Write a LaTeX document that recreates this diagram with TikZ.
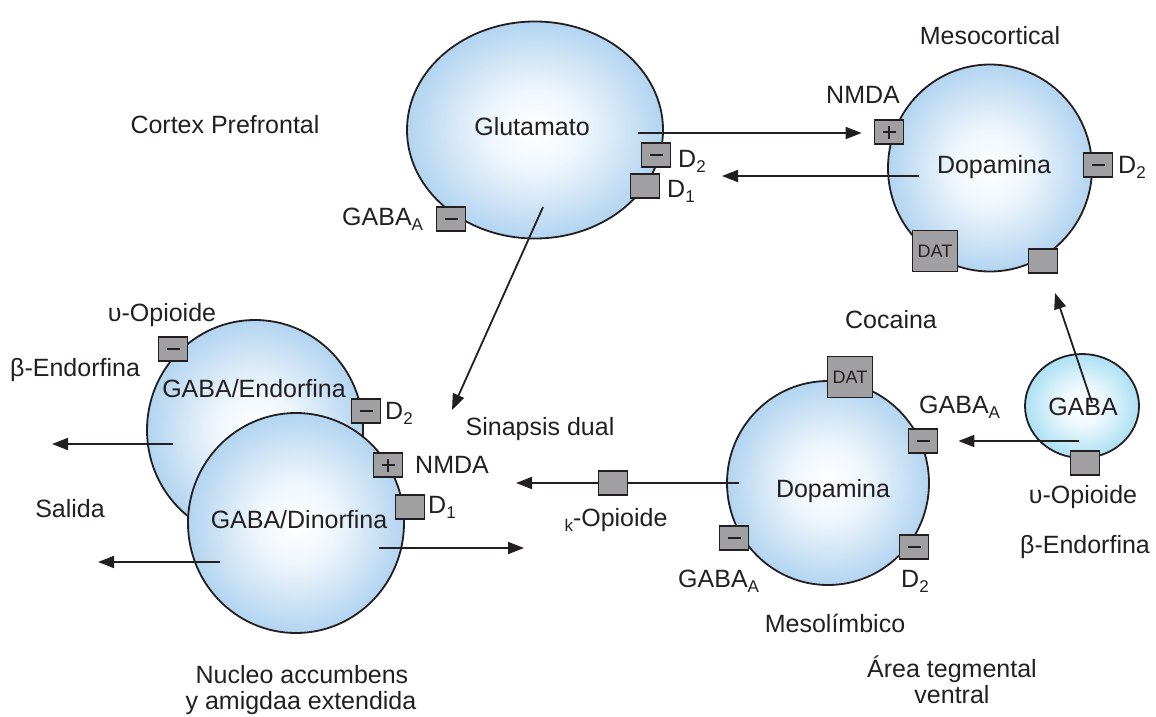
\documentclass[tikz,border=0pt]{standalone}
\usepackage{fontspec}
\setmainfont{Liberation Sans}
\usetikzlibrary{arrows.meta,shapes.geometric}
\definecolor{cellblue}{RGB}{178,212,240}
\definecolor{gababl}{RGB}{172,224,244}
\definecolor{boxgray}{RGB}{160,160,163}
\definecolor{ink}{RGB}{35,31,32}
% soft radial fill: white core, blue rim
\pgfdeclareradialshading{cellfill}{\pgfpoint{0bp}{0bp}}{%
  color(0bp)=(white); color(9bp)=(white!80!cellblue);
  color(25bp)=(cellblue); color(50bp)=(cellblue)}
\pgfdeclareradialshading{gabafill}{\pgfpoint{0bp}{0bp}}{%
  color(0bp)=(white); color(9bp)=(white!80!gababl);
  color(25bp)=(gababl); color(50bp)=(gababl)}
% lowered index as set in the labels
\newcommand{\idx}[1]{\raisebox{-5pt}{\fontsize{17}{20}\selectfont #1}}
\begin{document}
\begin{tikzpicture}[x=1pt,y=-1pt,
  cell/.style={ellipse, draw=ink, line width=1.8pt, inner sep=0pt, shading=cellfill},
  lab/.style={anchor=base, inner sep=0pt, text=ink, font=\fontsize{25}{30}\selectfont},
  labw/.style={lab, anchor=base west},
  rplain/.style={draw=ink, line width=1.8pt, fill=boxgray,
    minimum width=29pt, minimum height=24pt, inner sep=0pt},
  rdat/.style={rplain, minimum width=45pt, minimum height=41pt,
    font=\fontsize{18}{20}\selectfont, text=ink},
  rminus/.style={rplain, path picture={
    \draw[ink, line width=2.8pt]
      ([xshift=-6.5pt]path picture bounding box.center) --
      ([xshift=6.5pt]path picture bounding box.center);}},
  rplus/.style={rplain, path picture={
    \draw[ink, line width=2.6pt]
      ([xshift=-6.5pt]path picture bounding box.center) --
      ([xshift=6.5pt]path picture bounding box.center)
      ([yshift=-6.5pt]path picture bounding box.center) --
      ([yshift=6.5pt]path picture bounding box.center);}},
  arr/.style={draw=ink, line width=1.8pt, -{Triangle[length=16pt,width=12pt]}},
]
\useasboundingbox (0,0) rectangle (1156,717);

% neurons
\node[cell, minimum width=256pt, minimum height=217pt] (glu) at (535,130) {};
\node[cell, minimum width=204pt, minimum height=207pt] (dacort) at (990,168) {};
\node[cell, minimum width=202pt, minimum height=204pt] (dalimb) at (828,483) {};
\node[cell, minimum width=114pt, minimum height=104pt, shading=gabafill] (gaba) at (1082,406) {};
\node[cell, minimum width=216pt, minimum height=220pt] (gend) at (255,430) {};
\node[cell, minimum width=216pt, minimum height=220pt] (gdin) at (296,523) {};

% receptors
\node[rminus] (glu-d2) at (656,155) {};
\node[rplain] (glu-d1) at (645,186) {};
\node[rminus] (glu-gaba) at (451,219) {};
\node[rplus] (cort-nmda) at (889,132) {};
\node[rminus] (cort-d2) at (1098,165) {};
\node[rdat] (cort-dat) at (935,251) {DAT};
\node[rplain] (cort-op) at (1043,261) {};
\node[rdat] (limb-dat) at (850,377) {DAT};
\node[rminus] (limb-gaba1) at (923,441) {};
\node[rminus] (limb-gaba2) at (734,538) {};
\node[rminus] (limb-d2) at (914,547) {};
\node[rplain] (gaba-op) at (1085,463) {};
\node[rminus] (gend-op) at (173,349) {};
\node[rminus] (gend-d2) at (366,411) {};
\node[rplus] (gdin-nmda) at (388,465) {};
\node[rplain] (gdin-d1) at (410,507) {};

% projections
\coordinate (glu-out) at (638,133);
\draw[arr, shorten >=12pt] (glu-out) -- (glu-out -| cort-nmda.west);
\coordinate (cort-out) at (919,176);
\coordinate (cort-tip) at (722,176);
\draw[arr] (cort-out) -- (cort-tip);
\coordinate (glu-down) at (543,207);
\coordinate (dual-tip) at (452,410);
\draw[arr] (glu-down) -- (dual-tip);
\coordinate (gaba-out) at (1079,441);
\draw[arr, shorten >=20pt] (gaba-out) -- (gaba-out -| limb-gaba1.east);
\coordinate (gaba-up) at (1092,403);
\coordinate (gaba-tip) at (1055,293);
\draw[arr] (gaba-up) -- (gaba-tip);
\coordinate (limb-out) at (739,483);
\coordinate (limb-tip) at (516,483);
\draw[arr] (limb-out) -- (limb-tip);
\node[rplain] (kappa) at (613,483) {};
\coordinate (gend-out) at (173,444);
\coordinate (gend-tip) at (52,444);
\draw[arr] (gend-out) -- (gend-tip);
\coordinate (gdin-out) at (220,562);
\coordinate (gdin-tip) at (98,562);
\draw[arr] (gdin-out) -- (gdin-tip);
\coordinate (gdin-in) at (379,548);
\coordinate (gdin-rtip) at (524,548);
\draw[arr] (gdin-in) -- (gdin-rtip);

% texts
\node[lab] (t-glu) at (532,135) {Glutamato};
\node[lab] (t-cpf) at (225,133) {Cortex Prefrontal};
\node[lab] (t-mcort) at (990,45) {Mesocortical};
\node[lab] (t-nmda1) at (863,103) {NMDA};
\node[lab] (t-dacort) at (994,173) {Dopamina};
\node[labw] (t-cd2) at (1118,173) {D\idx{2}};
\node[labw] (t-gd2) at (678,167) {D\idx{2}};
\node[labw] (t-gd1) at (667,197) {D\idx{1}};
\node[labw] (t-ggaba) at (342,225) {GABA\idx{A}};
\node[lab] (t-op1) at (162,321) {υ-Opioide};
\node[labw] (t-be1) at (10,376) {β-Endorfina};
\node[lab] (t-gend) at (254,397) {GABA/Endorfina};
\node[labw] (t-ed2) at (385,419) {D\idx{2}};
\node[labw] (t-nmda2) at (415,473) {NMDA};
\node[labw] (t-dd1) at (428,513) {D\idx{1}};
\node[lab] (t-gdin) at (299,528) {GABA/Dinorfina};
\node[lab] (t-sal) at (70,517) {Salida};
\node[lab] (t-dual) at (540,435) {Sinapsis dual};
\node[lab] (t-kap) at (616,526) {\idx{k}-Opioide};
\node[lab] (t-dalimb) at (833,497) {Dopamina};
\node[lab] (t-coc) at (891,328) {Cocaina};
\node[labw] (t-lg1) at (919,413) {GABA\idx{A}};
\node[lab] (t-gaba) at (1083,415) {GABA};
\node[lab] (t-op2) at (1083,503) {υ-Opioide};
\node[lab] (t-be2) at (1085,553) {β-Endorfina};
\node[labw] (t-lg2) at (678,587) {GABA\idx{A}};
\node[labw] (t-ld2) at (901,587) {D\idx{2}};
\node[lab] (t-mlimb) at (835,632) {Mesolímbico};
\node[lab] (t-nac1) at (302,683) {Nucleo accumbens};
\node[lab] (t-nac2) at (301,709) {y amigdaa extendida};
\node[lab] (t-vta1) at (952,677) {Área tegmental};
\node[lab] (t-vta2) at (952,703) {ventral};
\end{tikzpicture}
\end{document}
